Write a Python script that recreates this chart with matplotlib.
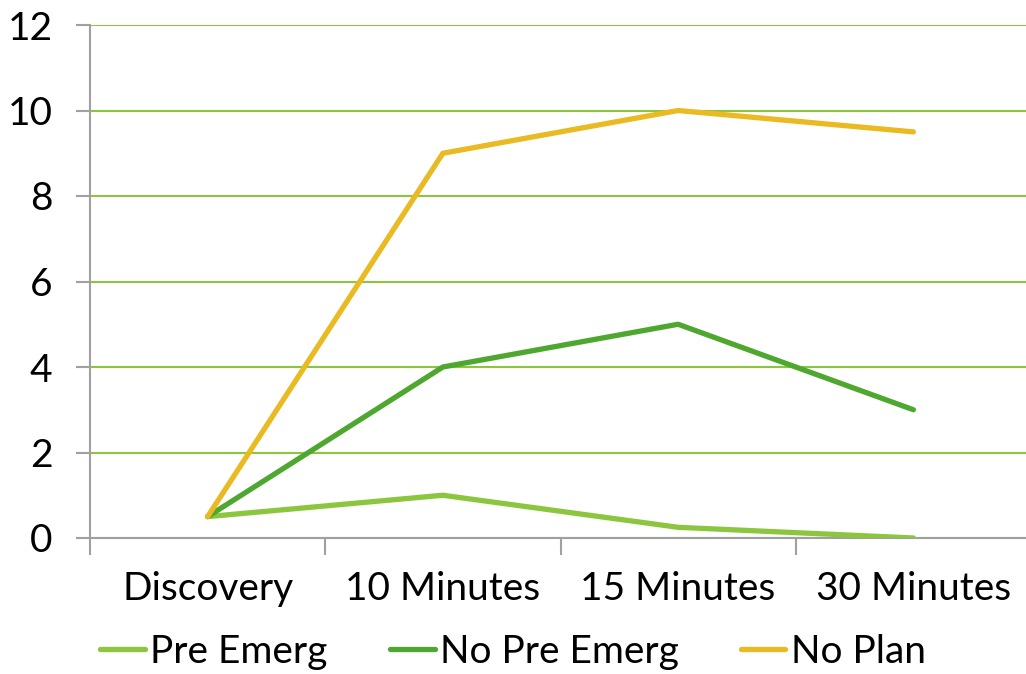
import matplotlib
matplotlib.use("Agg")
import matplotlib.pyplot as plt

categories = ["Discovery", "10 Minutes", "15 Minutes", "30 Minutes"]
pre_emerg = [0.5, 1.0, 0.25, 0.0]
no_pre_emerg = [0.5, 4.0, 5.0, 3.0]
no_plan = [0.5, 9.0, 10.0, 9.5]
series_names = ["Pre Emerg", "No Pre Emerg", "No Plan"]
y_ticks = [0, 2, 4, 6, 8, 10, 12]

plt.rcParams['font.family'] = ['Lato', 'DejaVu Sans']
FS = 28

fig = plt.figure(figsize=(10.26, 6.74), dpi=100)
ax = fig.add_axes([90/1026, 1-538/674, (1031-90)/1026, (538-25)/674])

x = list(range(len(categories)))
colors = ["#8CC63F", "#4EA72E", "#E9BA21"]
for vals, name, c in zip([pre_emerg, no_pre_emerg, no_plan], series_names, colors):
    ax.plot(x, vals, color=c, lw=3.8, label=name, solid_joinstyle='round', solid_capstyle='round', zorder=3)

ax.set_xlim(-0.5, 3.5)
ax.set_ylim(0, 12)
ax.set_yticks(y_ticks)
ax.set_yticklabels([str(v) for v in y_ticks])
ax.set_xticks([i - 0.5 for i in range(len(categories) + 1)])
ax.set_xticklabels([])
ax.set_xticks(x, minor=True)
ax.set_xticklabels(categories, minor=True)
ax.tick_params(axis='x', which='minor', length=0, pad=24, labelsize=FS)
ax.tick_params(axis='x', which='major', length=12, width=1.5, color='#A0A0A0', direction='out')
ax.tick_params(axis='y', length=10, width=1.5, color='#A0A0A0', pad=17, labelsize=FS)

ax.grid(axis='y', color='#8CC63F', lw=1.5, zorder=1)
ax.set_axisbelow(True)
for s in ['top', 'right']:
    ax.spines[s].set_visible(False)
for s in ['left', 'bottom']:
    ax.spines[s].set_color('#A0A0A0')
    ax.spines[s].set_linewidth(1.5)

fig.legend(loc='center', bbox_to_anchor=(513/1026, 1-652/674), ncol=3, frameon=False,
           fontsize=FS, handlelength=1.15, handletextpad=0.13, columnspacing=1.6,
           borderpad=0, borderaxespad=0)

fig.savefig("out.png", dpi=100)
